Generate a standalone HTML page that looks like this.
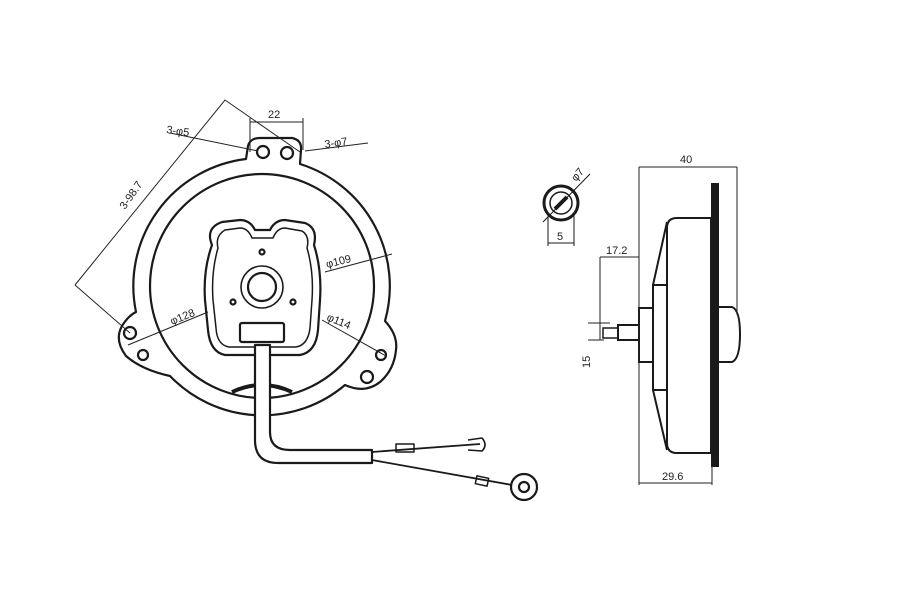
<!DOCTYPE html>
<html><head><meta charset="utf-8"><style>
html,body{margin:0;padding:0;background:#fff;width:900px;height:600px;overflow:hidden}
text{font-family:"Liberation Sans",sans-serif;font-size:11px;fill:#222}
</style></head><body>
<svg width="900" height="600" viewBox="0 0 900 600" xmlns="http://www.w3.org/2000/svg">
<g fill="none" stroke="#1a1a1a" stroke-width="2.2" stroke-linejoin="round">
<path d="M246,159 L248,146 Q250,138 260,138 L292,138 Q302,140 301,150 L300,164 A128,128 0 0 1 385,321 Q398,335 396,350 Q394,370 380,382 Q365,394 345,385 A128,128 0 0 1 170,376 Q142,370 126,356 Q114,340 122,326 Q128,316 136,312 A128,128 0 0 1 246,159 Z"/>
<circle cx="262" cy="286" r="112"/>
<circle cx="263" cy="152" r="6"/><circle cx="287" cy="153" r="6"/>
<circle cx="130" cy="333" r="6"/><circle cx="143" cy="355" r="5"/>
<circle cx="381" cy="355" r="5"/><circle cx="367" cy="377" r="6"/>
<!-- plate -->
<path d="M222,222 L240,220 Q250,220 255,230 L270,230 Q275,220 285,220 L305,223 Q318,228 314,245 Q322,270 320,300 L318,330 Q316,352 300,355 L225,355 Q210,352 208,330 L205,300 Q203,270 212,245 Q205,228 222,222 Z" fill="#fff"/>
<path d="M225,230 L240,228 Q248,228 252,238 L273,238 Q277,228 285,228 L302,231 Q310,236 307,248 Q314,272 312,300 L310,328 Q308,345 296,347 L229,347 Q217,345 216,328 L213,300 Q211,272 218,248 Q215,236 225,230 Z" stroke-width="1.5"/>
<circle cx="262" cy="287" r="21" stroke-width="1.6"/>
<circle cx="262" cy="287" r="14"/>
<circle cx="262" cy="252" r="2.5"/><circle cx="233" cy="302" r="2.5"/><circle cx="293" cy="302" r="2.5"/>
<rect x="240" y="323" width="44" height="19" rx="2"/>
<path d="M232,392 Q262,378 292,392" stroke-width="4"/>
<!-- cable -->
<path d="M255,345 L255,440 Q255,463 278,463 L372,463 L372,450 L290,450 Q270,450 270,432 L270,345 Z" fill="#fff"/>
<path d="M372,452 L480,444 M372,460 L512,485" stroke-width="1.8"/>
<rect x="396" y="444" width="18" height="8" stroke-width="1.5"/>
<path d="M468,440 L482,438 Q488,445 482,451 L468,450" stroke-width="1.6"/>
<rect x="476" y="477" width="12" height="8" transform="rotate(12 482 481)" stroke-width="1.5"/>
<circle cx="524" cy="487" r="13" fill="#fff"/><circle cx="524" cy="487" r="5"/>
</g>
<!-- dimension lines left -->
<g fill="none" stroke="#222" stroke-width="1">
<path d="M75,285 L225,100 L300,152 M75,285 L130,333"/>
<path d="M250,122 L303,122 M250,118 L250,152 M303,118 L303,150"/>
<path d="M170,133 L258,151 M305,151 L368,143"/>
<path d="M325,272 L392,254"/>
<path d="M128,345 L208,312"/>
<path d="M322,320 L386,356"/>
</g>
<text x="268" y="118">22</text>
<text x="166" y="133" transform="rotate(8 166 133)">3-φ5</text>
<text x="325" y="148" transform="rotate(-8 325 148)">3-φ7</text>
<text x="125" y="210" transform="rotate(-55 125 210)">3-98.7</text>
<text x="327" y="268" transform="rotate(-14 327 268)">φ109</text>
<text x="172" y="325" transform="rotate(-22 172 325)">φ128</text>
<text x="326" y="320" transform="rotate(22 326 320)">φ114</text>
<!-- small detail -->
<g fill="none" stroke="#1a1a1a">
<circle cx="561" cy="203" r="17" stroke-width="3"/>
<circle cx="561" cy="203" r="11" stroke-width="1.5"/>
<path d="M555,209 L567,197" stroke-width="4"/>
<path d="M543,222 L590,174 M548,212 L548,246 M574,212 L574,246 M548,243 L574,243" stroke-width="1"/>
</g>
<text x="576" y="182" transform="rotate(-50 576 182)">φ7</text>
<text x="557" y="240">5</text>
<!-- side view -->
<g fill="none" stroke="#1a1a1a" stroke-width="2">
<path d="M667,228 Q667,218 677,218 L711,218 L711,453 L677,453 Q667,453 667,443 Z"/>
<path d="M667,222 L653,285 M667,450 L653,390"/>
<rect x="653" y="285" width="14" height="105"/>
<rect x="639" y="308" width="14" height="54"/>
<rect x="618" y="325" width="21" height="15"/>
<rect x="603" y="328" width="15" height="10" stroke-width="1.5"/>
<path d="M719,307 L732,307 Q740,310 740,334 Q740,359 732,362 L719,362"/>
</g>
<rect x="711" y="183" width="8" height="284" fill="#1a1a1a"/>
<g fill="none" stroke="#222" stroke-width="1">
<path d="M639,167 L737,167 M639,167 L639,485 M737,167 L737,315 M639,483 L712,483 M712,460 L712,485"/>
<path d="M600,257 L639,257 M600,257 L600,340 M588,323 L610,323 M588,340 L604,340"/>
</g>
<text x="680" y="163">40</text>
<text x="662" y="480">29.6</text>
<text x="606" y="254">17.2</text>
<text x="590" y="368" transform="rotate(-90 590 368)">15</text>
</svg>
</body></html>
